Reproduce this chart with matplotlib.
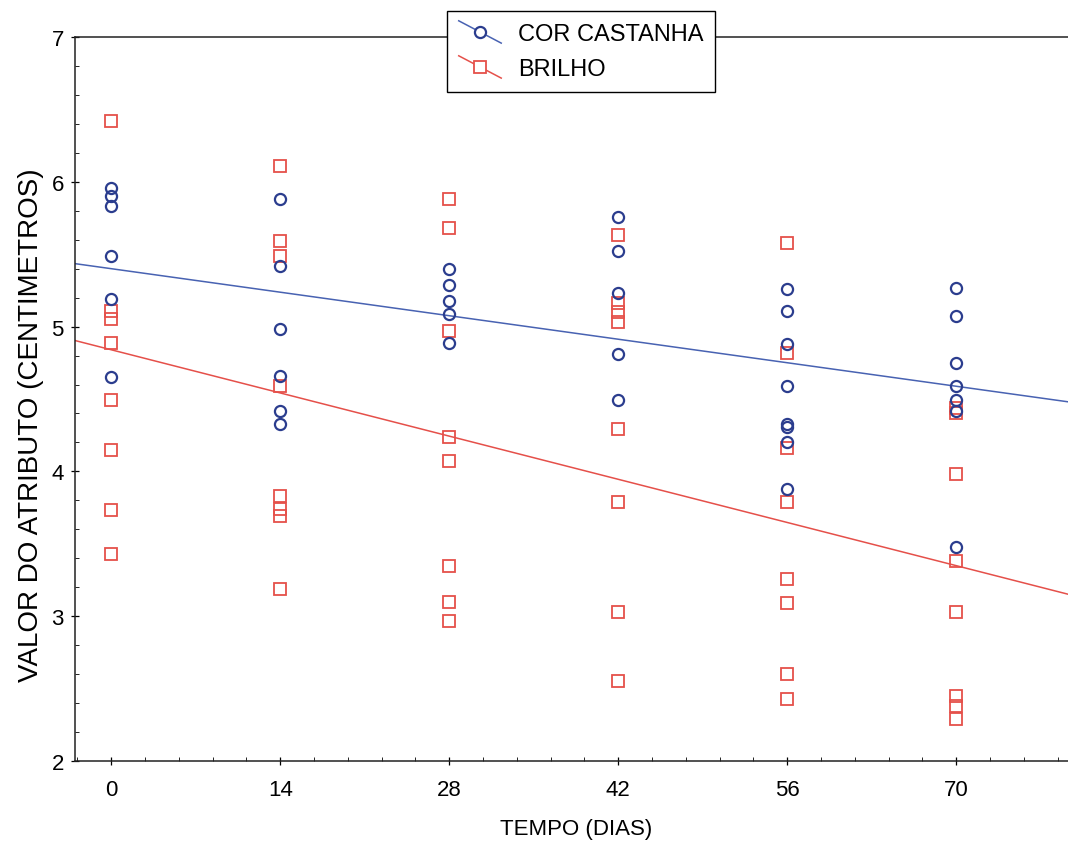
import matplotlib
matplotlib.use("Agg")
import matplotlib.pyplot as plt
from matplotlib.lines import Line2D
from matplotlib.legend_handler import HandlerLine2D
from matplotlib.ticker import MultipleLocator
import numpy as np

plt.rcParams['font.family'] = ['Liberation Sans', 'DejaVu Sans']

# ---- data ----
days = [0, 14, 28, 42, 56, 70]

cor_castanha = {
    0:  [5.96, 5.90, 5.83, 5.49, 5.19, 4.65],
    14: [5.88, 5.42, 4.98, 4.66, 4.42, 4.33],
    28: [5.40, 5.29, 5.18, 5.09, 4.89],
    42: [5.76, 5.52, 5.23, 4.81, 4.49],
    56: [5.26, 5.11, 4.88, 4.59, 4.33, 4.31, 4.20, 3.88],
    70: [5.27, 5.07, 4.75, 4.59, 4.49, 4.42, 3.48],
}
brilho = {
    0:  [6.42, 5.11, 5.05, 4.89, 4.49, 4.15, 3.73, 3.43],
    14: [6.11, 5.59, 5.49, 4.59, 3.83, 3.74, 3.69, 3.19],
    28: [5.88, 5.68, 4.97, 4.24, 4.07, 3.35, 3.10, 2.97],
    42: [5.63, 5.16, 5.10, 5.03, 4.29, 3.79, 3.03, 2.55],
    56: [5.58, 4.82, 4.16, 3.79, 3.26, 3.09, 2.60, 2.43],
    70: [4.44, 4.40, 3.98, 3.38, 3.03, 2.45, 2.38, 2.29],
}
# fitted lines (intercept, slope)
fit_cor = (5.40, -0.0116)
fit_brilho = (4.84, -0.0213)

labels = ["COR CASTANHA", "BRILHO"]
x_label = "TEMPO (DIAS)"
y_label = "VALOR DO ATRIBUTO (CENTIMETROS)"

BLUE = "#2b3d8e"
BLUE_LINE = "#4862b2"
RED = "#e5504a"

fig = plt.figure(figsize=(10.68, 8.54), dpi=100)
W, H = 1068, 854
left_px, right_px, top_px, bot_px = 75, 1077, 38, 762
ax = fig.add_axes([left_px / W, (H - bot_px) / H, (right_px - left_px) / W, (bot_px - top_px) / H])

xlim = (-3, 80)
ax.set_xlim(*xlim)
ax.set_ylim(2, 7)

xs_line = np.array(xlim, dtype=float)
ax.plot(xs_line, fit_cor[0] + fit_cor[1] * xs_line, color=BLUE_LINE, lw=1.1, zorder=2)
ax.plot(xs_line, fit_brilho[0] + fit_brilho[1] * xs_line, color=RED, lw=1.1, zorder=2)

MS = 8
for d in days:
    yb = brilho[d]
    ax.plot([d] * len(yb), yb, ls='none', marker='s', ms=MS, mfc='none',
            mec=RED, mew=1.3, zorder=3)
    yc = cor_castanha[d]
    ax.plot([d] * len(yc), yc, ls='none', marker='o', ms=MS, mfc='none',
            mec=BLUE, mew=1.6, zorder=4)

ax.set_xticks(days)
ax.set_yticks([2, 3, 4, 5, 6, 7])
ax.yaxis.set_minor_locator(MultipleLocator(0.2))
ax.xaxis.set_minor_locator(MultipleLocator(2.8))
ax.tick_params(axis='both', which='major', direction='inout', length=6, width=0.9,
               labelsize=16, colors='black')
ax.tick_params(axis='x', which='major', pad=10)
ax.tick_params(axis='y', which='major', pad=5)
ax.tick_params(axis='both', which='minor', direction='in', length=3, width=0.6)
for s in ax.spines.values():
    s.set_linewidth(1.1)
    s.set_color('#222222')

ax.set_xlabel(x_label, fontsize=16, labelpad=13)
ax.set_ylabel(y_label, fontsize=20)
ax.yaxis.set_label_coords(-0.031, 0.465)


class DiagHandler(HandlerLine2D):
    def create_artists(self, legend, orig_handle, xdescent, ydescent, width, height,
                       fontsize, trans):
        x0, x1 = -xdescent, -xdescent + width
        y0, y1 = -ydescent + height * 1.15, -ydescent - height * 0.2
        line = Line2D([x0, x1], [y0, y1], color=orig_handle.get_color(), lw=1.1)
        mk = Line2D([(x0 + x1) / 2], [(y0 + y1) / 2], ls='none',
                    marker=orig_handle.get_marker(), ms=orig_handle.get_markersize(),
                    mfc='white', mec=orig_handle.get_markeredgecolor(),
                    mew=orig_handle.get_markeredgewidth())
        line.set_transform(trans)
        mk.set_transform(trans)
        return [line, mk]


h1 = Line2D([], [], color=BLUE_LINE, marker='o', ms=MS, mec=BLUE, mew=1.6)
h2 = Line2D([], [], color=RED, marker='s', ms=MS, mec=RED, mew=1.3)
leg = ax.legend([h1, h2], labels, loc='upper center',
                bbox_to_anchor=(581 / W, 1 - 12 / H), bbox_transform=fig.transFigure,
                handler_map={Line2D: DiagHandler()}, fontsize=17, frameon=True,
                fancybox=False, edgecolor='black', framealpha=1, handlelength=1.8,
                handletextpad=0.7, borderpad=0.5, labelspacing=0.55, borderaxespad=0)
leg.get_frame().set_linewidth(1.0)
leg.set_zorder(10)

fig.savefig("out.png", dpi=100)
